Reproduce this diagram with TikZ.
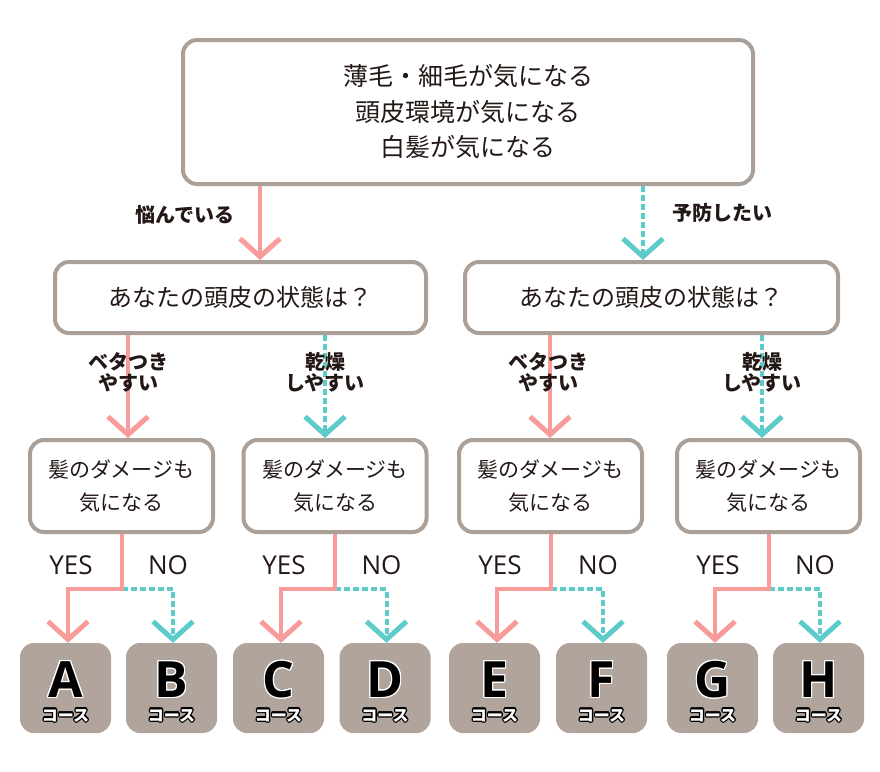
\documentclass[tikz,border=0pt]{standalone}
\usepackage{fontspec}
\setmainfont{Open Sans}
\newfontfamily\jp{Noto Sans CJK JP}
\newfontfamily\en{Open Sans}
\usepackage{contour}
\contourlength{1.2pt}
\usetikzlibrary{arrows.meta,calc}
\definecolor{pk}{HTML}{F79C9A}
\definecolor{cy}{HTML}{5DCBCA}
\definecolor{bd}{HTML}{ABA098}
\definecolor{cf}{HTML}{B0A49C}
\definecolor{tx}{HTML}{231815}
\begin{document}
\begin{tikzpicture}[x=1pt,y=-1pt,
 box/.style={draw=bd, line width=4pt, rounded corners=14pt, fill=white, inner sep=0pt, align=center, text=tx},
 qbox/.style={box, minimum width=183pt, minimum height=92pt, font=\jp\fontsize{21}{33}\selectfont},
 course/.style={fill=cf, rounded corners=14pt, minimum width=91pt, minimum height=90pt, inner sep=0pt},
 pkline/.style={draw=pk, line width=4pt},
 cyline/.style={draw=cy, line width=4pt, dash pattern=on 6pt off 3pt},
 tip/.style={-{Straight Barb[length=18pt,width=40pt,line width=5pt]}},
 lab/.style={font=\jp\bfseries\fontsize{20}{21}\selectfont, text=tx, align=center, inner sep=0pt},
 yn/.style={font=\en\fontsize{26}{26}\selectfont, text=tx, inner sep=0pt},
 letter/.style={font=\en\bfseries\fontsize{50}{50}\selectfont, text=black, inner sep=0pt},
 kosu/.style={font=\jp\bfseries\fontsize{16}{16}\selectfont, text=white, inner sep=0pt},
]
\useasboundingbox (0,0) rectangle (880,771);

% top
\node[box, minimum width=570pt, minimum height=144pt, font=\jp\fontsize{25}{35.5}\selectfont] (top) at (468,112) {薄毛・細毛が気になる\\頭皮環境が気になる\\白髪が気になる};

% second level
\node[box, minimum width=371pt, minimum height=71pt, font=\jp\fontsize{24}{24}\selectfont] (L) at (240.5,297.5) {あなたの頭皮の状態は？};
\node[box, minimum width=373pt, minimum height=71pt, font=\jp\fontsize{24}{24}\selectfont] (R) at (651.5,297.5) {あなたの頭皮の状態は？};

% third level
\node[qbox] (q1) at (121.5,486) {髪のダメージも\\気になる};
\node[qbox] (q2) at (335,486) {髪のダメージも\\気になる};
\node[qbox] (q3) at (550.5,486) {髪のダメージも\\気になる};
\node[qbox] (q4) at (768.5,486) {髪のダメージも\\気になる};

% courses
\foreach \n/\x in {A/65.5,B/171.5,C/278.5,D/385,E/494.5,F/601.5,G/712.5,H/818.5}{
  \node[course] (\n) at (\x,688) {};
  \node[letter] (\n l) at ([yshift=8pt]\n.center) {\contour{white}{\n}};
  \node[kosu] (\n k) at ([yshift=-28pt]\n.center) {\contour{black}{コース}};
}

% top connectors
\coordinate (aL) at ([xshift=19.5pt]L.north);
\coordinate (aR) at ([xshift=-8.5pt]R.north);
\draw[pkline,tip] (top.south -| aL) -- (aL);
\draw[cyline,tip] (top.south -| aR) -- (aR);
\node[lab] (t1) at (185,215) {悩んでいる};
\node[lab] (t2) at (722,213) {予防したい};

% second to third
\coordinate (b1) at ([xshift=6.5pt]q1.north);
\coordinate (b2) at ([xshift=-10pt]q2.north);
\coordinate (b3) at ([xshift=-0.5pt]q3.north);
\coordinate (b4) at ([xshift=-6.5pt]q4.north);
\draw[pkline,tip] (L.south -| b1) -- (b1);
\draw[cyline,tip] (L.south -| b2) -- (b2);
\draw[pkline,tip] (R.south -| b3) -- (b3);
\draw[cyline,tip] (R.south -| b4) -- (b4);
\node[lab] (s1) at (128,372.5) {ベタつき\\やすい};
\node[lab] (s2) at (325,372.5) {乾燥\\しやすい};
\node[lab] (s3) at (548,372.5) {ベタつき\\やすい};
\node[lab] (s4) at (762,372.5) {乾燥\\しやすい};

% third to courses
\foreach \q/\y/\nn in {q1/A/B,q2/C/D,q3/E/F,q4/G/H}{
  \coordinate (\q j) at ([yshift=-55pt]\q.south);
  \draw[cyline,tip] (\q j) -| ([xshift=1.5pt]\nn.north);
  \draw[pkline,tip] (\q.south) -- (\q j) -| ([xshift=2.5pt]\y.north);
  \node[yn] at ($(\q j -| \y.north)+(5.5,-24)$) {YES};
  \node[yn] at ($(\q j -| \nn.north)+(-3.5,-24)$) {NO};
}
\end{tikzpicture}
\end{document}
